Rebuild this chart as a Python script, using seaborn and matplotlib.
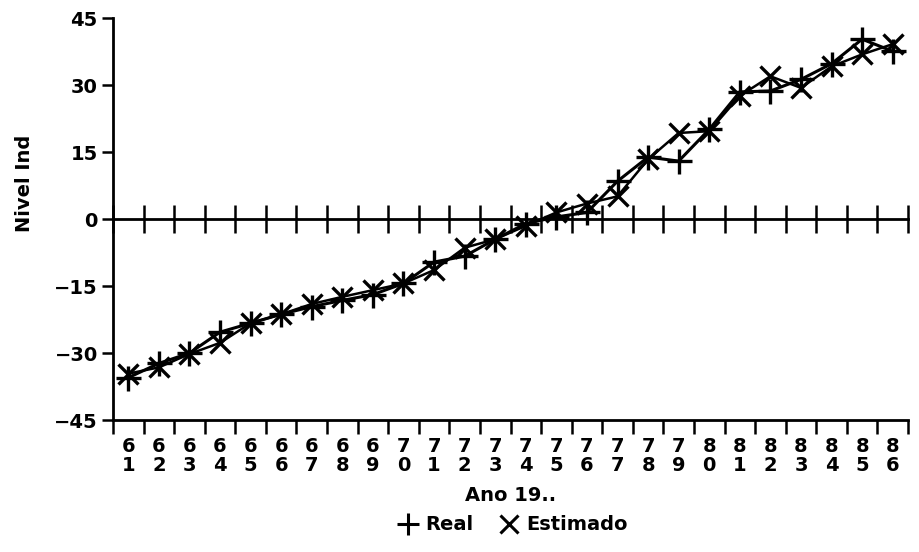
import numpy as np
import pandas as pd
import matplotlib
matplotlib.use('Agg')
import matplotlib.pyplot as plt
from matplotlib.lines import Line2D
import seaborn as sns

# valores
anos = ['61', '62', '63', '64', '65', '66', '67', '68', '69', '70', '71', '72', '73',
        '74', '75', '76', '77', '78', '79', '80', '81', '82', '83', '84', '85', '86']
real = [-35.5, -32.3, -30.0, -25.3, -23.3, -21.3, -19.6, -18.2, -16.9, -14.4, -9.6, -8.3, -4.5,
        -1.0, 0.5, 1.5, 8.5, 13.9, 13.0, 20.1, 28.5, 28.7, 31.3, 34.8, 40.3, 37.6]
estimado = [-34.6, -33.2, -30.2, -27.7, -23.3, -21.3, -19.0, -17.4, -15.9, -14.4, -11.4, -6.4, -4.5,
            -1.5, 1.5, 3.5, 5.1, 13.4, 19.3, 19.7, 27.6, 32.0, 29.4, 34.2, 36.9, 39.2]
yticks = [-45, -30, -15, 0, 15, 30, 45]

df = pd.DataFrame({'pos': np.arange(len(anos)), 'ano': anos, 'Real': real, 'Estimado': estimado})

sns.set_style('white')
plt.rcParams['font.family'] = ['DejaVu Sans']
plt.rcParams['font.weight'] = 'bold'
plt.rcParams['text.color'] = 'black'
plt.rcParams['axes.labelcolor'] = 'black'
plt.rcParams['xtick.color'] = 'black'
plt.rcParams['ytick.color'] = 'black'

fig = plt.figure(figsize=(9.19, 5.52), dpi=100)
ax = fig.add_axes([0.123, 0.239, 0.865, 0.728])

sns.lineplot(data=df, x='pos', y='Real', color='black', marker='+', markersize=18,
             markeredgewidth=2.4, markeredgecolor='black', linewidth=2.2, ax=ax)
sns.lineplot(data=df, x='pos', y='Estimado', color='black', marker='x', markersize=15,
             markeredgewidth=2.4, markeredgecolor='black', linewidth=1.8, ax=ax)

ax.set_xlim(-0.5, len(anos) - 0.5)
ax.set_ylim(-45, 45)

# rotulos do eixo x em duas linhas, marcas nos limites das categorias
ax.set_xticks(df['pos'], [a[0] + '\n' + a[1] for a in anos])
ax.set_xticks(np.arange(len(anos) + 1) - 0.5, minor=True)
ax.tick_params(axis='x', which='major', length=0, pad=12, labelsize=14)
ax.tick_params(axis='x', which='minor', length=10, width=1.8, direction='out', bottom=True)
for t in ax.get_xticklabels():
    t.set_linespacing(1.0)

ax.set_yticks(yticks)
ax.tick_params(axis='y', length=8, width=1.8, direction='out', left=True, labelsize=14, pad=3)

for s in ['top', 'right']:
    ax.spines[s].set_visible(False)
for s in ['left', 'bottom']:
    ax.spines[s].set_linewidth(2)
    ax.spines[s].set_color('black')

# linha do zero com marcas cruzadas
ax0 = ax.twiny()
ax0.set_xlim(ax.get_xlim())
for s in ['top', 'right', 'left']:
    ax0.spines[s].set_visible(False)
ax0.spines['bottom'].set_visible(True)
ax0.spines['bottom'].set_position(('data', 0))
ax0.spines['bottom'].set_linewidth(2)
ax0.spines['bottom'].set_color('black')
ax0.xaxis.set_ticks_position('bottom')
ax0.set_xticks(np.arange(len(anos) + 1) - 0.5, [''] * (len(anos) + 1))
ax0.tick_params(axis='x', length=20, width=1.8, direction='inout')
ax0.set_zorder(0)

ax.set_xlabel('Ano 19..', fontsize=14, fontweight='bold', labelpad=8)
ax.set_ylabel('Nivel Ind', fontsize=14, fontweight='bold')
ax.yaxis.set_label_coords(-0.1, 0.59)

handles = [Line2D([], [], color='black', marker='+', linestyle='none', markersize=16, markeredgewidth=2.2),
           Line2D([], [], color='black', marker='x', linestyle='none', markersize=13, markeredgewidth=2.2)]
fig.legend(handles, ['Real', 'Estimado'], loc='center', bbox_to_anchor=(0.557, 0.049), ncol=2,
           frameon=False, fontsize=14, handletextpad=0.3, columnspacing=1.2, handlelength=1.2)

fig.savefig('out.png', dpi=100)
